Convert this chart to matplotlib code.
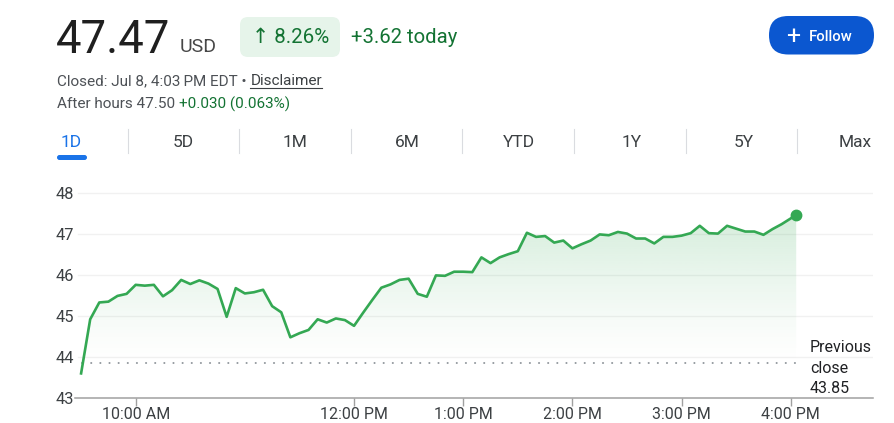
"""
    日内行情图 (1D)
"""

import numpy as np
import pandas as pd
import matplotlib
matplotlib.use('Agg')
import matplotlib.pyplot as plt
import matplotlib.dates as md
from matplotlib.patches import FancyBboxPatch, Polygon

plt.rcParams['font.family'] = ['Roboto', 'DejaVu Sans']

# 数据：5分钟一个点，最后一个点是 16:03 收盘
times = list(pd.date_range('2024-07-08 09:30', '2024-07-08 16:00', freq='5min')) \
    + [pd.Timestamp('2024-07-08 16:03')]
prices = [43.60, 44.92, 45.33, 45.35, 45.49, 45.54, 45.76, 45.74, 45.76, 45.48,
          45.63, 45.88, 45.78, 45.87, 45.79, 45.66, 44.98, 45.68, 45.55, 45.58,
          45.64, 45.24, 45.09, 44.48, 44.58, 44.66, 44.92, 44.84, 44.94, 44.90,
          44.76, 45.08, 45.39, 45.69, 45.77, 45.88, 45.91, 45.54, 45.47, 45.99,
          45.98, 46.08, 46.08, 46.07, 46.43, 46.29, 46.43, 46.51, 46.58, 47.03,
          46.93, 46.95, 46.79, 46.84, 46.65, 46.75, 46.84, 46.99, 46.97, 47.05,
          47.01, 46.89, 46.89, 46.77, 46.93, 46.93, 46.96, 47.02, 47.20, 47.02,
          47.01, 47.20, 47.13, 47.06, 47.06, 46.98, 47.12, 47.24, 47.38, 47.47]
prev_close = 43.85
y_ticks = [43, 44, 45, 46, 47, 48]
x_tick_times = ['10:00', '12:00', '13:00', '14:00', '15:00', '16:00']
x_tick_labels = ['10:00 AM', '12:00 PM', '1:00 PM', '2:00 PM', '3:00 PM', '4:00 PM']
tabs = ['1D', '5D', '1M', '6M', 'YTD', '1Y', '5Y', 'Max']

GREEN = '#34a853'
DARK_GREEN = '#137333'
GRAY = '#4d5156'

W, H = 894, 423
fig = plt.figure(figsize=(W / 100, H / 100), dpi=100, facecolor='white')

# 背景层：像素坐标，用来放标题、按钮、标签页
bg = fig.add_axes([0, 0, 1, 1], zorder=-1)
bg.set_xlim(0, W)
bg.set_ylim(H, 0)
bg.axis('off')

# 图表区
ax_top, ax_bottom, ax_left, ax_right = 188.9, 398, 75, 873
ax = fig.add_axes([ax_left / W, (H - ax_bottom) / H,
                   (ax_right - ax_left) / W, (ax_bottom - ax_top) / H],
                  facecolor='none')

xn = md.date2num(times)
t0 = md.date2num(pd.Timestamp('2024-07-08 09:30'))
minute = 1 / 1440

# 渐变填充
ys = np.linspace(43, 48.1, 300)
alpha = 0.22 * np.clip((ys - 43.8) / (47.6 - 43.8), 0, None) ** 1.3
alpha = np.clip(alpha, 0, 0.26)
img = np.zeros((300, 1, 4))
img[:, 0, 0] = 52 / 255
img[:, 0, 1] = 168 / 255
img[:, 0, 2] = 83 / 255
img[:, 0, 3] = alpha
im = ax.imshow(img, extent=[xn[0], xn[-1], 43, 48.1], origin='lower',
               aspect='auto', zorder=1, interpolation='bilinear')
verts = list(zip(xn, prices)) + [(xn[-1], 43), (xn[0], 43)]
clip = Polygon(verts, closed=True, facecolor='none', edgecolor='none',
               transform=ax.transData)
ax.add_patch(clip)
im.set_clip_path(clip)

# 网格线
for v in y_ticks[1:]:
    ax.axhline(v, xmin=3 / 798, color='#f1f1f1', lw=1.0, zorder=0)

# 昨收虚线
ax.axhline(prev_close, xmin=7 / 798, xmax=725 / 798, color='#8f959b',
           lw=1.4, linestyle=(0, (0.1, 4.6)), dash_capstyle='round', zorder=2)

# 价格线
ax.plot(xn, prices, color=GREEN, lw=1.9, zorder=3)
ax.plot(xn[-1], prices[-1], 'o', ms=7.5, color=GREEN, zorder=4)

ax.set_xlim(t0 - 3.35 * minute, t0 + 435.2 * minute)
ax.set_ylim(43, 48.1)

for s in ['top', 'right', 'left']:
    ax.spines[s].set_visible(False)
ax.spines['bottom'].set_color('#a0a0a0')
ax.spines['bottom'].set_linewidth(1.1)

ax.set_xticks([md.date2num(pd.Timestamp('2024-07-08 ' + t)) for t in x_tick_times])
ax.set_xticklabels(x_tick_labels)
ax.set_yticks(y_ticks)
ax.set_yticklabels([str(v) for v in y_ticks])
ax.tick_params(axis='x', length=5.8, width=1, color='#a0a0a0',
               labelsize=11.5, labelcolor='#3c4043', pad=1)
ax.tick_params(axis='y', length=0, labelsize=11.8, labelcolor='#3c4043', pad=1)

# 昨收说明
for txt, yb in [('Previous', 351.7), ('close', 373), ('43.85', 393.3)]:
    bg.text(810, yb, txt, fontsize=11.5, color='#202124', va='baseline')

# 标题部分
bg.text(56, 53, '47.47', fontsize=32.8, color='#1f1f1f', va='baseline')
bg.text(180, 52, 'USD', fontsize=14, color='#474747', va='baseline')

bg.add_patch(FancyBboxPatch((240, 17), 100, 40,
                            boxstyle='round,pad=0,rounding_size=8',
                            facecolor='#e6f4ea', edgecolor='none'))
bg.text(291, 43, '↑ 8.26%', fontsize=14.8, color=DARK_GREEN,
        ha='center', va='baseline')
bg.text(351, 43, '+3.62 today', fontsize=14.6, color=DARK_GREEN, va='baseline')

bg.add_patch(FancyBboxPatch((769, 16), 105, 38.5,
                            boxstyle='round,pad=0,rounding_size=19.2',
                            facecolor='#0b57d0', edgecolor='none'))
bg.text(793.5, 44.5, '+', fontsize=18, color='white',
        ha='center', va='baseline')
bg.text(809, 41, 'Follow', fontsize=10.6, color='white', fontweight=500,
        va='baseline')

renderer = fig.canvas.get_renderer()
inv = bg.transData.inverted()


def right_edge(t):
    # 文本右边界（像素坐标）
    bb = t.get_window_extent(renderer)
    return inv.transform((bb.x1, bb.y0))[0]


t1 = bg.text(57, 85, 'Closed: Jul 8, 4:03\u2009PM EDT • ', fontsize=11,
             color=GRAY, va='baseline')
x1 = right_edge(t1)
t2 = bg.text(x1, 85, 'Disclaimer', fontsize=11, color='#3c4043',
             va='baseline')
x2 = right_edge(t2)
bg.plot([x1, x2], [88.5, 88.5], color='#3c4043', lw=0.8)

t3 = bg.text(57, 108.3, 'After hours 47.50 ', fontsize=11, color=GRAY,
             va='baseline')
bg.text(right_edge(t3), 108.3, '+0.030 (0.063%)', fontsize=11,
        color=DARK_GREEN, va='baseline')

# 标签页
for i, name in enumerate(tabs):
    bg.text(71.4 + 112 * i, 147, name, fontsize=12.5, ha='center',
            va='baseline', color='#1a73e8' if i == 0 else '#3c4043')
for i in range(len(tabs) - 1):
    sx = 127.5 + 111.6 * i
    bg.plot([sx, sx], [129, 153], color='#dadce0', lw=0.8)
bg.add_patch(FancyBboxPatch((57, 155), 30, 5,
                            boxstyle='round,pad=0,rounding_size=2.5',
                            facecolor='#1a73e8', edgecolor='none'))

plt.savefig('out.png', dpi=100, facecolor='white')
